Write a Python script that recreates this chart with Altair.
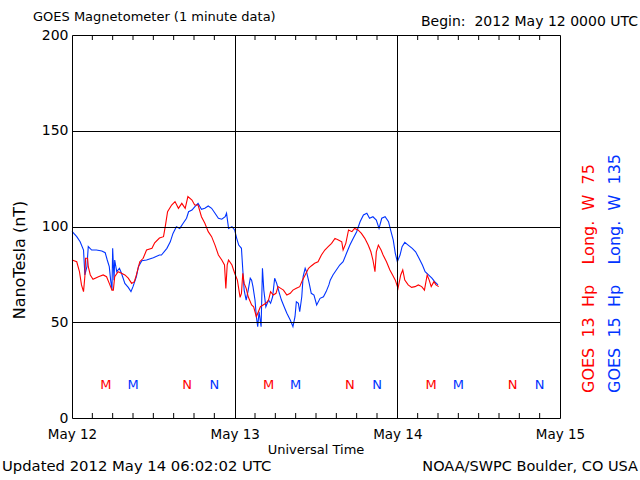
import altair as alt
import pandas as pd

# GOES 13 (red) - hours since 2012-05-12 00:00 UTC, nT
g13_hours = [0.0, 0.7, 1.1, 1.4, 1.7, 1.9, 2.0, 2.3, 2.4, 2.7, 3.1, 3.9, 4.6, 5.1, 5.5, 5.9, 6.1, 6.3, 6.8,
             7.3, 7.8, 8.3, 8.8, 9.2, 9.5, 10.0, 10.5, 11.0, 11.8, 12.2, 12.9, 13.5, 13.8, 14.1, 14.7, 15.2,
             15.7, 16.2, 16.7, 17.1, 17.7, 18.1, 18.6, 19.1, 19.6, 20.1, 20.6, 21.1, 21.6, 22.1, 22.5, 22.7,
             22.9, 23.1, 23.6, 24.0, 24.4, 24.8, 25.0, 25.2, 25.4, 25.7, 26.0, 26.5, 26.8, 27.2, 27.5, 27.8,
             28.2, 28.6, 29.0, 29.3, 29.7, 30.1, 30.4, 30.8, 31.2, 31.7, 32.2, 32.6, 33.1, 33.6, 34.0, 34.4,
             34.9, 35.3, 35.8, 36.3, 36.8, 37.3, 37.8, 38.3, 38.8, 39.3, 39.8, 40.0, 40.4, 40.8, 41.3, 41.7,
             42.2, 42.7, 43.2, 43.7, 44.1, 44.4, 44.7, 44.9, 45.2, 45.6, 45.9, 46.4, 46.9, 47.3, 47.7, 48.1,
             48.5, 48.8, 49.1, 49.6, 50.1, 50.6, 51.1, 51.6, 52.0, 52.4, 52.7, 53.0, 53.4, 53.7, 54.1]
g13_nt = [82.5, 81.6, 76.4, 69.5, 66.0, 74.0, 83.4, 83.4, 79.0, 74.7, 72.4, 73.8, 74.7, 73.8, 70.3, 66.8, 66.8,
          73.8, 76.4, 75.6, 74.7, 73.0, 70.3, 71.2, 74.7, 81.6, 83.4, 87.7, 88.6, 91.5, 94.0, 94.7, 100.8,
          107.7, 111.2, 113.0, 109.5, 112.1, 109.5, 115.6, 113.8, 111.2, 111.2, 105.1, 101.7, 97.3, 94.7,
          90.3, 85.1, 82.5, 79.9, 67.7, 80.0, 82.5, 79.9, 75.6, 72.0, 63.0, 65.1, 75.6, 70.3, 67.7, 63.3,
          59.0, 58.1, 52.9, 55.5, 58.1, 59.0, 59.9, 61.6, 66.0, 64.2, 65.1, 68.6, 67.7, 66.8, 64.2, 65.1,
          66.8, 67.7, 68.6, 72.0, 74.7, 78.2, 79.4, 80.8, 81.6, 85.1, 87.7, 89.5, 91.2, 93.8, 93.0, 92.0,
          87.7, 91.2, 98.2, 97.3, 99.0, 98.2, 96.4, 93.8, 90.3, 86.8, 82.5, 76.4, 86.8, 90.3, 87.7, 85.1,
          81.6, 77.3, 74.7, 72.0, 67.7, 74.7, 77.3, 72.0, 69.5, 68.2, 68.6, 69.5, 68.6, 66.8, 74.7, 72.0,
          68.6, 71.2, 69.5, 68.6]

# GOES 15 (blue)
g15_hours = [0.0, 0.7, 1.2, 1.7, 1.9, 2.2, 2.4, 2.9, 3.6, 4.4, 4.9, 5.2, 5.5, 5.7, 5.9, 6.0, 6.2, 6.3, 6.6,
             7.0, 7.3, 7.8, 8.3, 8.7, 9.0, 9.5, 9.8, 10.3, 11.0, 12.0, 12.9, 13.2, 14.0, 14.5, 14.9, 15.4,
             15.9, 16.4, 16.9, 17.2, 17.7, 18.1, 18.6, 19.1, 19.6, 20.1, 20.6, 21.1, 21.6, 22.1, 22.6, 22.8,
             23.1, 23.6, 24.0, 24.3, 24.6, 25.0, 25.2, 25.4, 25.7, 26.0, 26.3, 26.5, 26.7, 27.0, 27.2, 27.4,
             27.6, 27.9, 28.1, 28.3, 28.6, 29.0, 29.3, 29.6, 29.9, 30.2, 30.6, 30.9, 31.3, 31.7, 32.2, 32.6,
             32.9, 33.1, 33.4, 33.6, 33.9, 34.1, 34.4, 34.6, 35.0, 35.3, 35.7, 36.1, 36.6, 37.1, 37.5, 37.9,
             38.1, 38.5, 39.0, 39.5, 40.0, 40.5, 41.0, 41.5, 42.0, 42.5, 43.0, 43.5, 43.9, 44.4, 44.9, 45.3,
             45.7, 46.2, 46.7, 47.0, 47.4, 47.7, 48.0, 48.4, 48.7, 49.1, 49.6, 50.2, 50.7, 51.2, 51.7, 52.1,
             52.6, 53.1, 53.5, 54.0]
g15_nt = [97.5, 94.7, 92.0, 87.7, 74.7, 79.0, 89.5, 87.7, 87.7, 87.2, 86.3, 82.5, 79.0, 72.0, 66.8, 88.6, 72.0,
          82.5, 76.4, 78.2, 75.6, 70.3, 68.2, 66.0, 68.6, 73.8, 79.0, 82.1, 82.5, 83.7, 85.1, 85.1, 88.6,
          92.0, 96.4, 99.9, 99.0, 101.7, 104.3, 107.7, 108.6, 110.3, 112.1, 109.0, 109.5, 110.7, 109.5,
          106.9, 104.3, 103.8, 105.1, 106.9, 99.0, 99.9, 98.2, 93.8, 90.3, 88.6, 77.3, 66.8, 61.6, 66.8,
          73.0, 72.0, 68.6, 61.6, 52.9, 47.7, 55.5, 47.7, 78.2, 66.8, 58.1, 61.6, 59.9, 63.3, 73.0, 70.3,
          65.1, 61.6, 58.1, 54.7, 51.2, 47.7, 52.9, 60.7, 59.9, 55.5, 63.3, 73.8, 78.2, 76.4, 70.3, 65.1,
          64.2, 59.0, 62.5, 63.3, 66.0, 69.5, 72.0, 74.7, 77.3, 79.9, 81.6, 86.0, 90.3, 93.8, 97.3, 102.5,
          106.0, 106.9, 104.3, 105.1, 103.4, 99.0, 104.3, 105.1, 102.5, 98.2, 92.9, 86.0, 81.6, 85.1, 89.5,
          91.7, 90.3, 88.6, 86.8, 83.4, 79.9, 76.4, 74.7, 73.0, 71.2, 69.5]

# Local midnight (M) / noon (N) markers
mark_hours = [5, 9, 17, 21, 29, 33, 41, 45, 53, 57, 65, 69]
mark_letters = ["M", "M", "N", "N", "M", "M", "N", "N", "M", "M", "N", "N"]
mark_sats = ["GOES 13", "GOES 15"] * 6
mark_level = 17

day_ticks = [0, 24, 48, 72]
minor_ticks = [3, 6, 9, 12, 15, 18, 21, 27, 30, 33, 36, 39, 42, 45, 51, 54, 57, 60, 63, 66, 69]

RED = "#ff0000"
BLUE = "#0033ff"
FONT = "DejaVu Sans"
SP = "\u00a0"

W, H = 488, 383

xscale = alt.Scale(domain=[0, 72], nice=False, zero=False)
yscale = alt.Scale(domain=[0, 200], nice=False)

df13 = pd.DataFrame({"h": g13_hours, "v": g13_nt})
df15 = pd.DataFrame({"h": g15_hours, "v": g15_nt})
dfm = pd.DataFrame({"h": mark_hours, "t": mark_letters, "s": mark_sats, "v": [mark_level] * len(mark_hours)})
dft = pd.DataFrame({"h": minor_ticks})

xaxis = alt.Axis(values=day_ticks, labelExpr="'May ' + (12 + datum.value / 24)", title=None,
                 grid=True, gridColor="black", gridWidth=1, gridOpacity=1, domain=False, ticks=False,
                 labelFontSize=13.5, labelFont=FONT, labelColor="black", labelPadding=9, zindex=1,
                 labelFlush=False)
yaxis = alt.Axis(values=[0, 50, 100, 150, 200], title=None, grid=True, gridColor="black", gridWidth=1,
                 gridOpacity=1, domain=False, ticks=False, labelFontSize=14, labelFont=FONT,
                 labelColor="black", labelPadding=4, zindex=1, labelFlush=False)

blue_line = alt.Chart(df15).mark_line(color=BLUE, strokeWidth=1.1, interpolate="linear").encode(
    x=alt.X("h:Q", scale=xscale, axis=xaxis),
    y=alt.Y("v:Q", scale=yscale, axis=yaxis),
)
red_line = alt.Chart(df13).mark_line(color=RED, strokeWidth=1.1).encode(
    x=alt.X("h:Q", scale=xscale),
    y=alt.Y("v:Q", scale=yscale),
)

markers = alt.Chart(dfm).mark_text(font=FONT, fontSize=13).encode(
    x=alt.X("h:Q", scale=xscale),
    y=alt.Y("v:Q", scale=yscale),
    text="t:N",
    color=alt.Color("s:N", scale=alt.Scale(domain=["GOES 13", "GOES 15"], range=[RED, BLUE]), legend=None),
)

ticks_bottom = alt.Chart(dft).mark_rule(color="black", strokeWidth=1).encode(
    x=alt.X("h:Q", scale=xscale), y=alt.value(H), y2=alt.value(H - 5))
ticks_top = alt.Chart(dft).mark_rule(color="black", strokeWidth=1).encode(
    x=alt.X("h:Q", scale=xscale), y=alt.value(0), y2=alt.value(5))


def label(text, x, y, size=14, color="black", align="left", angle=0):
    return alt.Chart(pd.DataFrame({"t": [text]})).mark_text(
        font=FONT, fontSize=size, color=color, align=align, baseline="middle", angle=angle
    ).encode(x=alt.value(x), y=alt.value(y), text="t:N")


leg13 = "GOES" + SP * 2 + "13" + SP * 2 + "Hp" + SP * 4 + "Long." + SP * 2 + "W" + SP * 2 + "75"
leg15 = "GOES" + SP * 2 + "15" + SP * 2 + "Hp" + SP * 4 + "Long." + SP * 2 + "W" + SP * 2 + "135"

texts = [
    label("GOES Magnetometer (1 minute data)", -39, -18, size=13),
    label("Begin:" + SP * 2 + "2012 May 12 0000 UTC", 566, -13, size=14, align="right"),
    label("NanoTesla (nT)", -52, 225, size=16, align="center", angle=270),
    label("Universal Time", 244, 415, size=13, align="center"),
    label("Updated 2012 May 14 06:02:02 UTC", -70, 432, size=14.8),
    label("NOAA/SWPC Boulder, CO USA", 566, 432, size=14.5, align="right"),
    label(leg13, 517, 358, size=16, color=RED, angle=270),
    label(leg15, 543, 358, size=16, color=BLUE, angle=270),
]

chart = alt.layer(blue_line, red_line, markers, ticks_bottom, ticks_top, *texts).properties(
    width=W, height=H,
    autosize=alt.AutoSizeParams(type="none"),
    padding={"left": 72, "top": 35, "right": 80, "bottom": 62},
).configure_view(stroke="black", strokeWidth=1).configure(background="white")

chart.save("out.html", embed_options={"renderer": "svg", "actions": False})
